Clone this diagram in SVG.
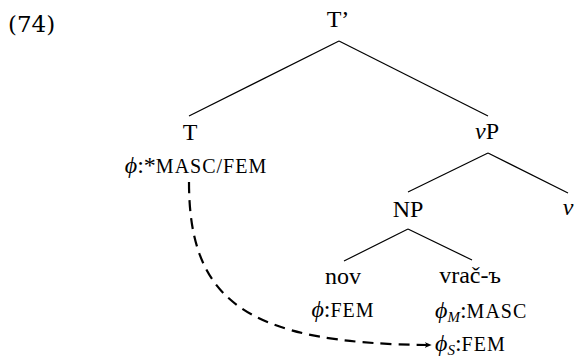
<svg xmlns="http://www.w3.org/2000/svg" width="576" height="358" viewBox="0 0 576 358">
<style>
text{font-family:"Liberation Serif","Times New Roman",serif;font-size:24px;fill:#000}
.num{font-family:"DejaVu Serif","Liberation Serif",serif;font-size:23px}
.sc{font-size:20px;letter-spacing:1px}
.it{font-style:italic}
.sub{font-size:15px;font-style:italic}
.edge{stroke:#000;stroke-width:1.2;fill:none}
.dash{stroke:#000;stroke-width:2.2;fill:none;stroke-dasharray:11,7}
</style>
<defs>
<marker id="arr" viewBox="0 0 10 10" refX="9" refY="5" markerWidth="7" markerHeight="7" orient="auto" markerUnits="userSpaceOnUse">
<path d="M0,1 L10,5 L0,9 L3,5 Z" fill="#000"/>
</marker>
</defs>
<text class="num" x="8" y="32">(74)</text>
<g id="connectors">
<line class="edge" x1="339" y1="41" x2="189" y2="116"/>
<line class="edge" x1="339" y1="41" x2="488" y2="116"/>
<line class="edge" x1="488" y1="153" x2="408" y2="192"/>
<line class="edge" x1="488" y1="153" x2="568" y2="193"/>
<line class="edge" x1="408" y1="229" x2="344" y2="261"/>
<line class="edge" x1="408" y1="229" x2="472" y2="260"/>
<path class="dash" d="M189,182 C189,300 245,344 431,345" marker-end="url(#arr)"/>
</g>
<g id="node-Tbar"><text x="338" y="27" text-anchor="middle">T’</text></g>
<g id="node-T">
<text x="190" y="140" text-anchor="middle">T</text>
<text x="196" y="173" text-anchor="middle"><tspan class="it">ϕ</tspan>:*<tspan class="sc">MASC/FEM</tspan></text>
</g>
<g id="node-vP"><text x="487" y="139" text-anchor="middle"><tspan class="it">v</tspan>P</text></g>
<g id="node-NP"><text x="408" y="217" text-anchor="middle">NP</text></g>
<g id="node-v"><text x="568" y="215" text-anchor="middle" class="it">v</text></g>
<g id="node-nov">
<text x="343" y="284" text-anchor="middle">nov</text>
<text x="343" y="317" text-anchor="middle"><tspan class="it">ϕ</tspan>:<tspan class="sc">FEM</tspan></text>
</g>
<g id="node-vrac">
<text x="470" y="283" text-anchor="middle">vrač-ъ</text>
<text x="435" y="318"><tspan class="it">ϕ</tspan><tspan class="sub" dy="4">M</tspan><tspan dy="-4">:</tspan><tspan class="sc">MASC</tspan></text>
<text x="435" y="351"><tspan class="it">ϕ</tspan><tspan class="sub" dy="4">S</tspan><tspan dy="-4">:</tspan><tspan class="sc">FEM</tspan></text>
</g>
</svg>
